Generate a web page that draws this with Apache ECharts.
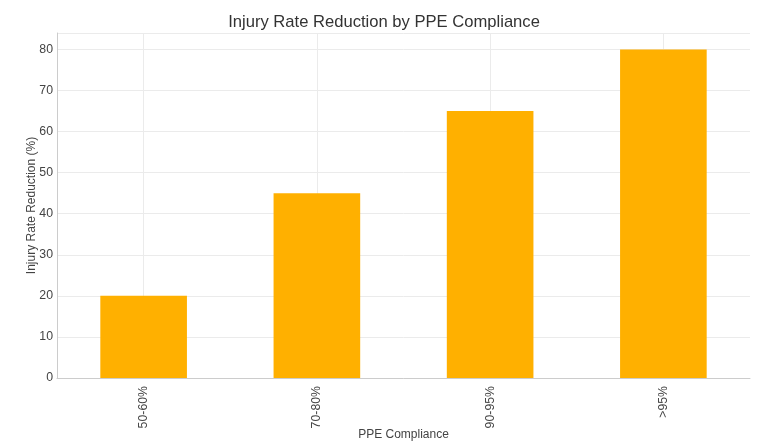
<!DOCTYPE html>
<html>
<head>
<meta charset="utf-8">
<script src="https://cdn.jsdelivr.net/npm/echarts@6/dist/echarts.min.js"></script>
<style>html,body{margin:0;padding:0;background:#fff}#c{width:768px;height:444px}</style>
</head>
<body>
<div id="c"></div>
<script>
const categories = ['50-60%', '70-80%', '90-95%', '>95%'];
const injuryReduction = [20, 45, 65, 80];
const yTicks = [0, 10, 20, 30, 40, 50, 60, 70, 80];

const chart = echarts.init(document.getElementById('c'), null, {renderer: 'canvas'});
const font = 'Liberation Sans, Arial, sans-serif';
chart.setOption({
  animation: false,
  backgroundColor: '#ffffff',
  textStyle: {fontFamily: font},
  title: {
    text: 'Injury Rate Reduction by PPE Compliance',
    left: 'center', top: 9,
    textStyle: {fontFamily: font, fontSize: 16.6, fontWeight: 'normal', color: '#333'}
  },
  grid: {left: 57, right: 18, top: 33, bottom: 66, containLabel: false, outerBoundsMode: 'none'},
  xAxis: {
    type: 'category',
    data: categories,
    name: 'PPE Compliance',
    nameLocation: 'middle',
    nameGap: 51,
    nameMoveOverlap: false,
    nameTextStyle: {fontFamily: font, fontSize: 12, color: '#444'},
    axisLine: {show: true, lineStyle: {color: '#cccccc', width: 1}},
    axisTick: {show: false},
    axisLabel: {rotate: 90, fontFamily: font, fontSize: 12.3, color: '#444', margin: 8},
    splitLine: {show: true, alignWithLabel: true, lineStyle: {color: '#ebebeb', width: 1}}
  },
  yAxis: {
    type: 'value',
    min: 0, max: 84, interval: 10,
    name: 'Injury Rate Reduction (%)',
    nameLocation: 'middle',
    nameGap: 19,
    nameMoveOverlap: false,
    nameTextStyle: {fontFamily: font, fontSize: 12, color: '#444'},
    axisLine: {show: true, lineStyle: {color: '#cccccc', width: 1}},
    axisTick: {show: false},
    axisLabel: {
      fontFamily: font, fontSize: 12.3, color: '#444', margin: 4,
      formatter: v => yTicks.includes(v) ? String(v) : ''
    },
    splitLine: {show: true, lineStyle: {color: '#ebebeb', width: 1}}
  },
  series: [{
    type: 'bar',
    data: injuryReduction,
    barWidth: '50%',
    itemStyle: {color: '#FFB000'}
  }]
});
</script>
</body>
</html>
